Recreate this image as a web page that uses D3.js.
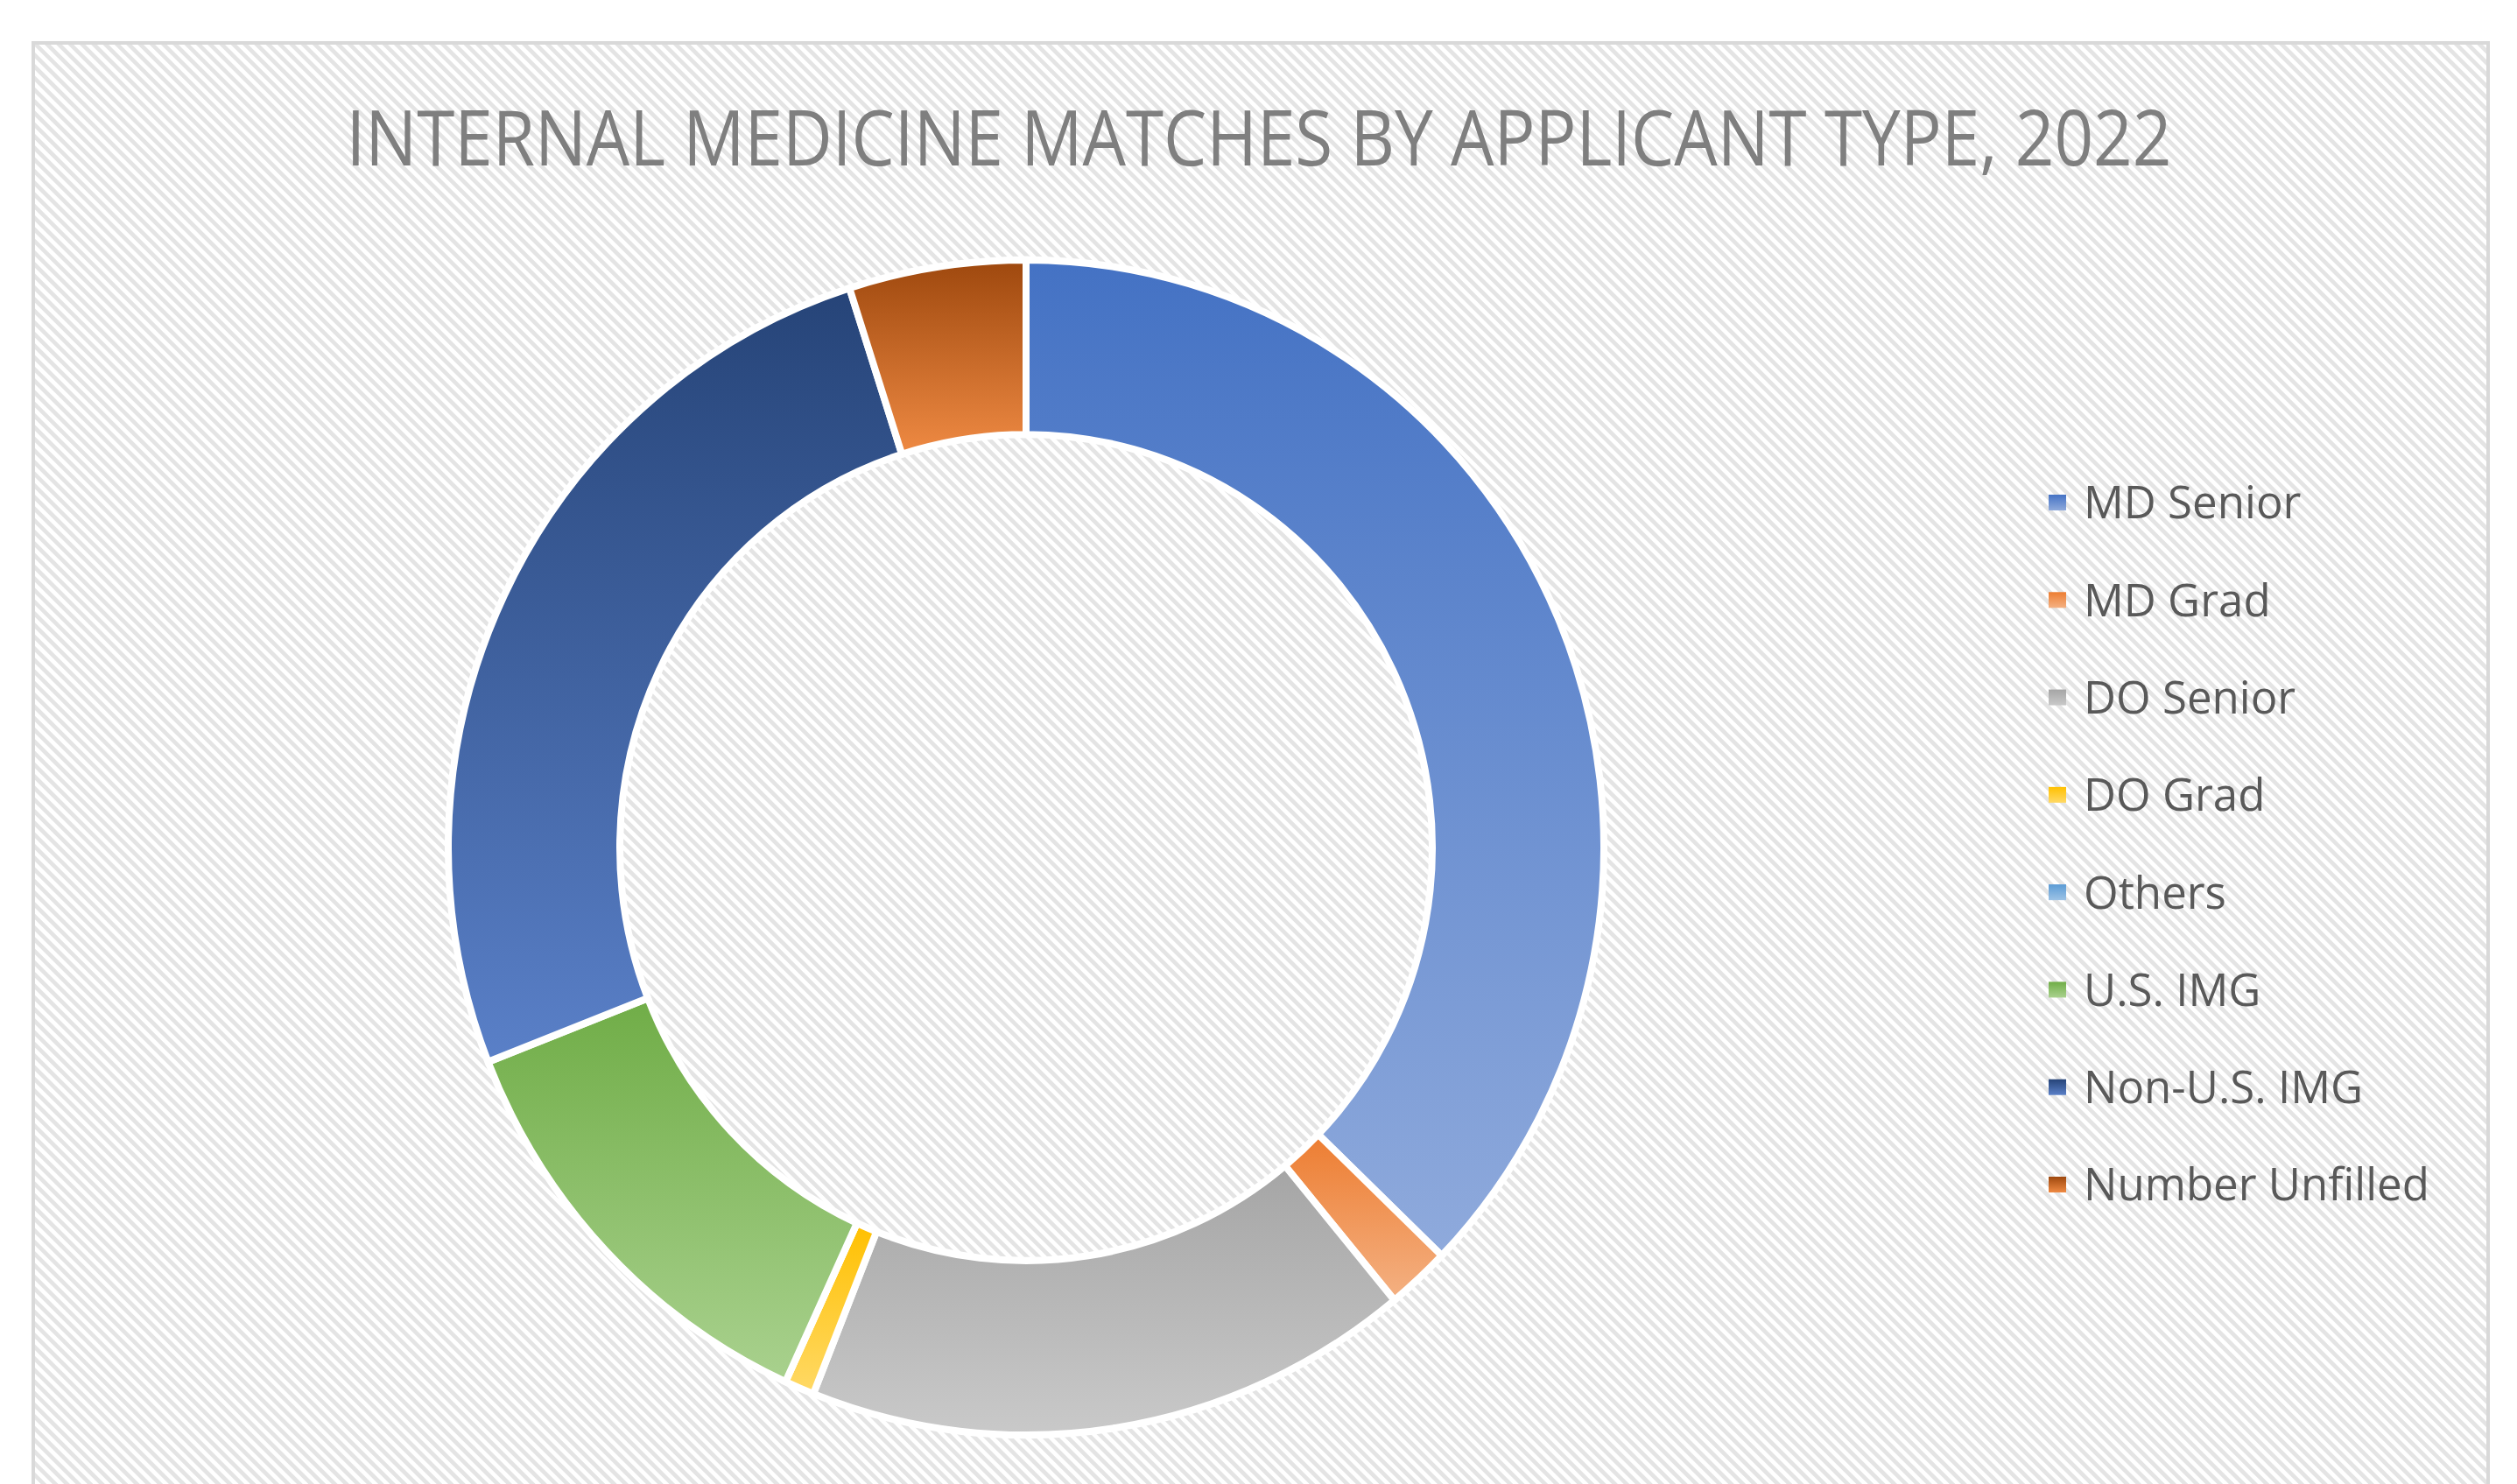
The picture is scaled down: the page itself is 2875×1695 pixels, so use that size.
<!DOCTYPE html>
<html>
<head>
<meta charset="utf-8">
<script src="https://cdn.jsdelivr.net/npm/d3@7"></script>
<style>
  body { margin: 0; background: #fff; }
  text { font-family: "Open Sans", "Noto Sans", sans-serif; }
</style>
</head>
<body>
<script>
// data
var applicantTypes = ["MD Senior", "MD Grad", "DO Senior", "DO Grad", "Others", "U.S. IMG", "Non-U.S. IMG", "Number Unfilled"];
var matches = [3350, 160, 1530, 75, 0, 1100, 2340, 445];
var chartTitle = "INTERNAL MEDICINE MATCHES BY APPLICANT TYPE, 2022";

// office palette, top and bottom of each gradient
var topColors = ["#4472c4", "#ed7d31", "#a5a5a5", "#ffc000", "#5b9bd5", "#70ad47", "#264478", "#9e480e"];
var bottomColors = ["#8faadc", "#f4b183", "#c9c9c9", "#ffd966", "#9dc3e6", "#a9d18e", "#5a80c8", "#ef8a43"];

var svgWidth = 2875;
var svgHeight = 1695;

var svg = d3.select("body")
  .append("svg")
  .attr("width", svgWidth)
  .attr("height", svgHeight);

var defs = svg.append("defs");

var stripes = defs.append("pattern")
  .attr("id", "stripes")
  .attr("patternUnits", "userSpaceOnUse")
  .attr("width", 9.4)
  .attr("height", 9.4)
  .attr("patternTransform", "rotate(-45)");
stripes.append("rect").attr("width", 9.4).attr("height", 9.4).attr("fill", "#fff");
stripes.append("rect").attr("width", 4.7).attr("height", 9.4).attr("fill", "#e4e4e4");

applicantTypes.forEach(function(name, i) {
  var g = defs.append("linearGradient")
    .attr("id", "grad" + i)
    .attr("x1", 0).attr("y1", 0)
    .attr("x2", 0).attr("y2", 1);
  g.append("stop").attr("offset", "0%").attr("stop-color", topColors[i]);
  g.append("stop").attr("offset", "100%").attr("stop-color", bottomColors[i]);
});

// chart area
svg.append("rect")
  .attr("x", 38)
  .attr("y", 49)
  .attr("width", 2804)
  .attr("height", 1700)
  .attr("fill", "url(#stripes)")
  .attr("stroke", "#d9d9d9")
  .attr("stroke-width", 4);

svg.append("text")
  .attr("x", 1438)
  .attr("y", 189)
  .attr("text-anchor", "middle")
  .attr("fill", "#7f7f7f")
  .attr("textLength", 2085)
  .attr("lengthAdjust", "spacingAndGlyphs")
  .style("font-size", "88px")
  .text(chartTitle);

// donut
var pie = d3.pie().sort(null).value(d => d);
var arc = d3.arc().innerRadius(464).outerRadius(660);

var donut = svg.append("g")
  .attr("transform", "translate(1172,968) scale(1,1.0168)");

donut.selectAll("path")
  .data(pie(matches))
  .enter()
  .append("path")
  .attr("d", arc)
  .attr("fill", (d, i) => "url(#grad" + i + ")")
  .attr("stroke", "#fff")
  .attr("stroke-width", 8)
  .attr("stroke-linejoin", "miter");

// legend
var legendY = d3.scalePoint()
  .domain(applicantTypes)
  .range([574, 1353]);

var legend = svg.append("g");

var items = legend.selectAll("g")
  .data(applicantTypes)
  .enter()
  .append("g")
  .attr("transform", d => `translate(2340, ${legendY(d)})`);

items.append("rect")
  .attr("x", 0)
  .attr("y", -9)
  .attr("width", 20)
  .attr("height", 18)
  .attr("fill", (d, i) => "url(#grad" + i + ")");

items.append("text")
  .attr("x", 40)
  .attr("dy", "0.36em")
  .attr("fill", "#595959")
  .style("font-size", "51px")
  .text(d => d);
</script>
</body>
</html>
